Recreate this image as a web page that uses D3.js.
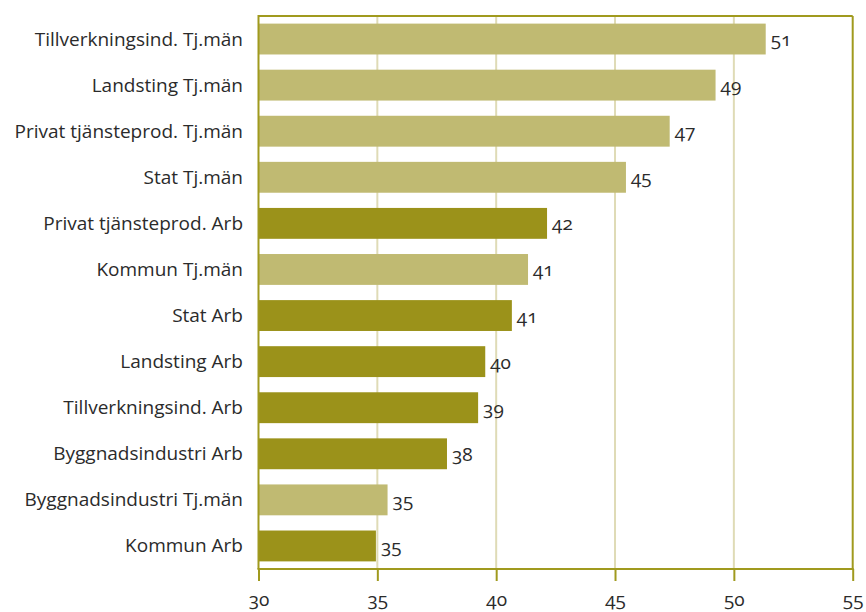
<!DOCTYPE html>
<html><head><meta charset="utf-8">
<script src="https://cdn.jsdelivr.net/npm/d3@7"></script>
<style>
body{margin:0;background:#fff;}
svg text{font-family:"Open Sans",sans-serif;font-feature-settings:"onum" 1;font-variant-numeric:oldstyle-nums;fill:#2b2b2b;}
</style></head><body>
<svg id="c" width="866" height="612"></svg>
<script>
const categories = ["Tillverkningsind. Tj.män","Landsting Tj.män","Privat tjänsteprod. Tj.män","Stat Tj.män","Privat tjänsteprod. Arb","Kommun Tj.män","Stat Arb","Landsting Arb","Tillverkningsind. Arb","Byggnadsindustri Arb","Byggnadsindustri Tj.män","Kommun Arb"];
const values = [51.34,49.23,47.3,45.46,42.14,41.34,40.66,39.54,39.24,37.93,35.43,34.94];
const valueLabels = ["51","49","47","45","42","41","41","40","39","38","35","35"];
const groups = ["Tj","Tj","Tj","Tj","Arb","Tj","Arb","Arb","Arb","Arb","Tj","Arb"];
const xTicks = [30,35,40,45,50,55];

const colors = {Tj:"#c0ba72", Arb:"#9b921a"};
const svg = d3.select("#c");
const m = {left:258.5, right:852.7, top:16, bottom:569};
const x = d3.scaleLinear().domain([30,55]).range([m.left,m.right]);
const y = d3.scaleBand().domain(categories).range([m.top,m.bottom]).paddingInner(0.33).paddingOuter(0.165);

// grid
svg.append("g").selectAll("line").data(xTicks.slice(1,-1)).join("line")
  .attr("x1",d=>x(d)).attr("x2",d=>x(d)).attr("y1",m.top).attr("y2",m.bottom)
  .attr("stroke","#dfdbb6").attr("stroke-width",2);

// bars
svg.append("g").selectAll("rect").data(categories).join("rect")
  .attr("x",x(30)).attr("y",d=>y(d)).attr("height",y.bandwidth())
  .attr("width",(d,i)=>x(values[i])-x(30))
  .attr("fill",(d,i)=>colors[groups[i]]);

// value labels
svg.append("g").selectAll("text").data(categories).join("text")
  .attr("x",(d,i)=>x(values[i])+5).attr("y",d=>y(d)+y.bandwidth()/2+7)
  .attr("font-size",19).text((d,i)=>valueLabels[i]);

// frame
const fc="#a09a1e";
svg.append("line").attr("x1",m.left).attr("x2",m.right).attr("y1",m.top).attr("y2",m.top).attr("stroke",fc).attr("stroke-width",2);
svg.append("line").attr("x1",m.right).attr("x2",m.right).attr("y1",m.top).attr("y2",m.bottom).attr("stroke",fc).attr("stroke-width",2);
svg.append("line").attr("x1",m.left).attr("x2",m.left).attr("y1",m.top-1).attr("y2",m.bottom).attr("stroke",fc).attr("stroke-width",2);

// x axis
const xAxis = svg.append("g").attr("transform",`translate(0,${m.bottom})`)
  .call(d3.axisBottom(x).tickValues(xTicks).tickSize(12).tickPadding(12));
xAxis.select(".domain").attr("stroke",fc).attr("stroke-width",2).attr("d",`M${m.left-1},0H${m.right+1}`);
xAxis.selectAll(".tick line").attr("stroke",fc).attr("stroke-width",2);
xAxis.selectAll(".tick text").attr("font-size",19).attr("font-family","Open Sans").style("fill","#2b2b2b");

// category labels
svg.append("g").selectAll("text").data(categories).join("text")
  .attr("x",243).attr("y",d=>y(d)+y.bandwidth()/2+6.5)
  .attr("text-anchor","end").attr("font-size",19).text(d=>d);
</script></body></html>
